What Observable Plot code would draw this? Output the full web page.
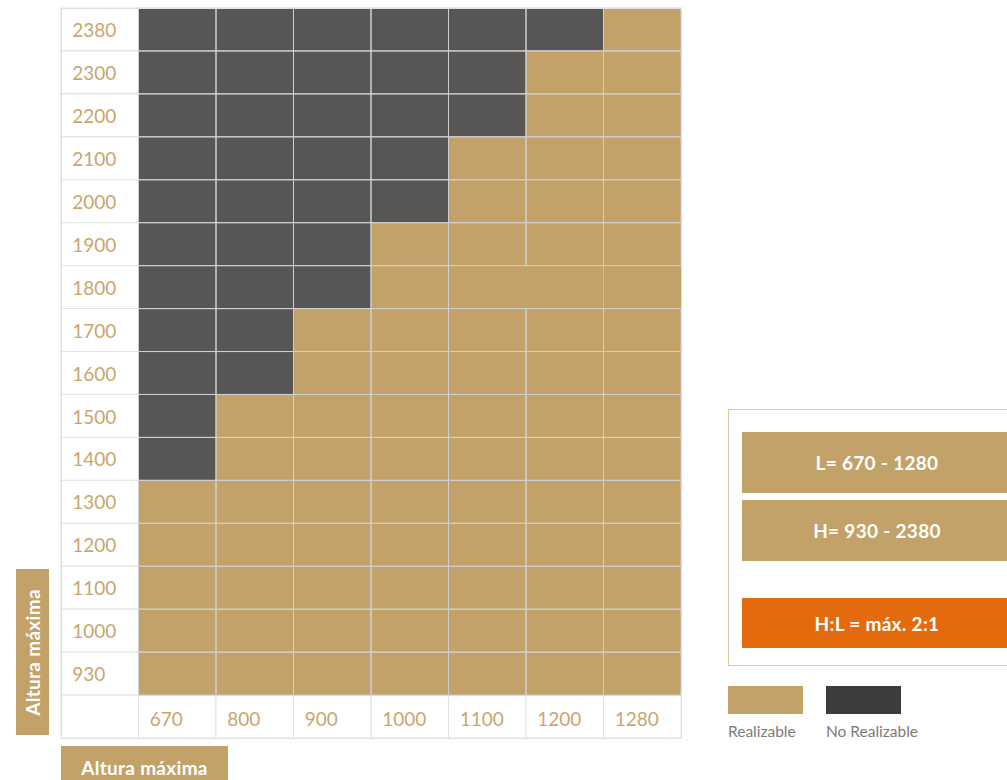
<!DOCTYPE html>
<html><head><meta charset="utf-8">
<script src="https://cdn.jsdelivr.net/npm/d3@7"></script>
<script src="https://cdn.jsdelivr.net/npm/@observablehq/plot@0.6"></script>
<style>
body{margin:0;overflow:hidden;background:#fff;font-family:Lato,"Open Sans",sans-serif;}
#wrap{position:relative;width:1007px;height:780px;overflow:hidden;}
#chart{position:absolute;left:0;top:0;}
.box{position:absolute;display:flex;align-items:center;justify-content:center;color:#fff;font-weight:700;box-sizing:border-box;letter-spacing:0.3px;}
.lg{position:absolute;color:#7b7b7b;font-size:15.5px;}
</style></head><body>
<div id="wrap"><div id="chart"></div></div>
<script>
const widths = [670, 800, 900, 1000, 1100, 1200, 1280];
const heights = [2380, 2300, 2200, 2100, 2000, 1900, 1800, 1700, 1600, 1500, 1400, 1300, 1200, 1100, 1000, 930];
const minRealizableWidth = [1280, 1200, 1200, 1100, 1100, 1000, 1000, 900, 900, 800, 800, 670, 670, 670, 670, 670];
const mergedHeight = 1800;
const mergedWidths = [1100, 1200, 1280];
const statusLabels = ["Realizable", "No Realizable"];
const rangeLabels = ["L= 670 - 1280", "H= 930 - 2380", "H:L = máx. 2:1"];
const axisTitle = "Altura máxima";

const TAN = "#c3a26a", DARK = "#575655", LEGDARK = "#3c3c3b", ORANGE = "#e36b0e", LABEL = "#c9a66e";

const cells = [];
heights.forEach((h, i) => widths.forEach(w => cells.push({
  h: String(h), w: String(w),
  status: w >= minRealizableWidth[i] ? statusLabels[0] : statusLabels[1],
  merged: h === mergedHeight && mergedWidths.includes(w)
})));
const rowLabels = heights.map(h => ({w: "", h: String(h), t: String(h)}));
const colLabels = widths.map(w => ({w: String(w), h: "", t: String(w)}));
const labelCells = [...rowLabels, ...colLabels, {w: "", h: "", t: ""}];

const chart = Plot.plot({
  width: 1007, height: 780,
  marginLeft: 61, marginRight: 326, marginTop: 8, marginBottom: 42,
  style: {fontFamily: "Lato, 'Open Sans', sans-serif", background: "transparent"},
  x: {type: "band", domain: ["", ...widths.map(String)], padding: 0, round: false, axis: null},
  y: {type: "band", domain: [...heights.map(String), ""], padding: 0, round: false, axis: null},
  color: {domain: statusLabels, range: [TAN, DARK]},
  marks: [
    Plot.cell(labelCells, {x: "w", y: "h", fill: "white", stroke: "#e3e3e3", inset: 0}),
    Plot.cell(cells, {x: "w", y: "h", fill: "status", inset: 0}),
    Plot.cell(cells.filter(d => !d.merged), {x: "w", y: "h", fill: "none", stroke: "#cfcfcf", strokeWidth: 1, inset: 0}),
    Plot.text(rowLabels, {x: "w", y: "h", text: "t", textAnchor: "start", dx: -28, dy: 1, fill: LABEL, fontSize: 19}),
    Plot.text(colLabels, {x: "w", y: "h", text: "t", textAnchor: "start", dx: -28, dy: 3, fill: LABEL, fontSize: 19}),
    Plot.frame({stroke: "#e0e0e0"})
  ]
});
document.getElementById("chart").appendChild(chart);

const wrap = document.getElementById("wrap");
function add(html) { wrap.insertAdjacentHTML("beforeend", html); }
// axis titles
add(`<div class="box" style="left:16px;top:569px;width:33px;height:166px;background:${TAN};font-size:19px;"><span style="transform:rotate(-90deg);white-space:nowrap;">${axisTitle}</span></div>`);
add(`<div class="box" style="left:61px;top:746px;width:167px;height:42px;background:${TAN};font-size:19px;">${axisTitle}</div>`);
// info legend box
add(`<div style="position:absolute;left:728px;top:409px;width:320px;height:257px;border:1px solid #dcc6a0;box-sizing:border-box;"></div>`);
add(`<div class="box" style="left:742px;top:432px;width:270px;height:61px;background:${TAN};font-size:19px;">${rangeLabels[0]}</div>`);
add(`<div class="box" style="left:742px;top:500px;width:270px;height:61px;background:${TAN};font-size:19px;">${rangeLabels[1]}</div>`);
add(`<div class="box" style="left:742px;top:598px;width:270px;height:50px;background:${ORANGE};font-size:19px;">${rangeLabels[2]}</div>`);
// swatch legend
add(`<div style="position:absolute;left:728px;top:686px;width:75px;height:28px;background:${TAN};"></div>`);
add(`<div style="position:absolute;left:826px;top:686px;width:75px;height:28px;background:${LEGDARK};"></div>`);
add(`<div class="lg" style="left:728px;top:722px;">${statusLabels[0]}</div>`);
add(`<div class="lg" style="left:826px;top:722px;">${statusLabels[1]}</div>`);
</script>
</body></html>
